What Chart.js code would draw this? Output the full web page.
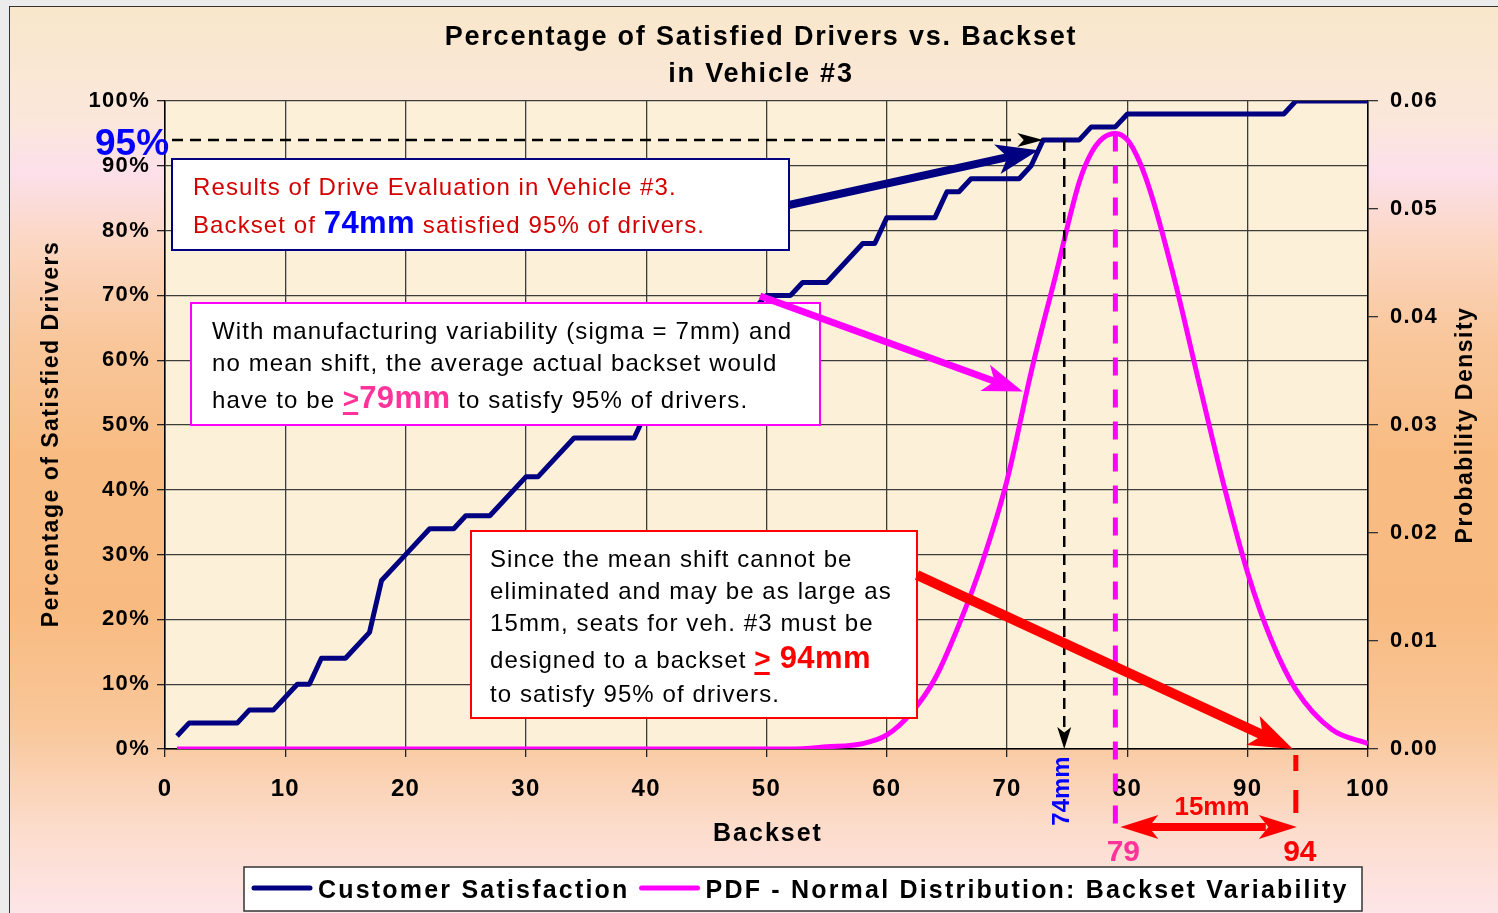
<!DOCTYPE html>
<html>
<head>
<meta charset="utf-8">
<script src="https://cdn.jsdelivr.net/npm/chart.js@4.4.1/dist/chart.umd.min.js"></script>
<style>
html, body { margin: 0; padding: 0; width: 1498px; height: 913px; overflow: hidden; background: #ececec; }
#frame {
    position: absolute; left: 9px; top: 6px; width: 1489px; height: 907px;
    border-left: 1px solid #333; border-top: 1px solid #333;
    background: linear-gradient(to bottom, #f9e7cb 0px, #fbe7da 110px, #fce0ea 165px, #fbd6c0 240px,
        #f9c79c 330px, #f8bc82 450px, #f8ba80 600px, #f9c79a 720px, #fcdccb 820px, #fde5e8 907px);
}
canvas { position: absolute; left: 0; top: 0; }
</style>
</head>
<body>
<div id="frame"></div>
<canvas id="canvas" width="1498" height="913"></canvas>
<script>
// values
const satBackset = [1, 2, 6, 7, 9, 11, 12, 13, 15, 17, 18, 20, 22, 24, 25, 27, 30, 31, 32, 34, 39, 40, 41, 42, 44, 45, 46, 47, 48, 49, 50, 52, 53, 55, 58, 59, 60, 64, 65, 66, 67, 71, 72, 73, 76, 77, 79, 80, 93, 94, 100];
const satPercent = [2, 4, 4, 6, 6, 10, 10, 14, 14, 18, 26, 30, 34, 34, 36, 36, 42, 42, 44, 48, 48, 52, 54, 56, 58, 60, 62, 64, 66, 68, 70, 70, 72, 72, 78, 78, 82, 82, 86, 86, 88, 88, 90, 94, 94, 96, 96, 98, 98, 100, 100];

const pdfBackset = [1, 52, 55, 58, 60, 62, 64, 66, 68, 70, 72, 74, 76, 77, 78, 79, 80, 81, 82, 84, 86, 88, 90, 92, 94, 97, 100];
const pdfDensity = [0, 0, 0.0002, 0.0005, 0.0013, 0.0033, 0.0065, 0.0115, 0.0175, 0.0249, 0.0349, 0.0437, 0.0525, 0.0552, 0.0566, 0.0570, 0.0564, 0.0544, 0.0513, 0.0431, 0.0337, 0.0245, 0.0163, 0.0100, 0.0055, 0.0018, 0.0005];

const seriesNames = ['Customer Satisfaction', 'PDF - Normal Distribution: Backset Variability'];
const xTickLabels = ['0', '10', '20', '30', '40', '50', '60', '70', '80', '90', '100'];
const yTickLabels = ['0%', '10%', '20%', '30%', '40%', '50%', '60%', '70%', '80%', '90%', '100%'];
const y2TickLabels = ['0.00', '0.01', '0.02', '0.03', '0.04', '0.05', '0.06'];

// annotation anchors (data units)
const satLevel = 94;
const satAt = 74.75;
const meanBackset = 79;
const designBackset = 94;

const FONT = '"Liberation Sans", Arial, Helvetica, sans-serif';
const NAVY = '#000080';
const MAGENTA = '#ff00ff';
const PINK = '#ff3399';
const RED = '#ff0000';

function text(ctx, s, x, y, font, color, align, ls, rot) {
    ctx.save();
    ctx.font = font;
    ctx.fillStyle = color;
    ctx.textAlign = align || 'left';
    ctx.textBaseline = rot ? 'middle' : 'alphabetic';
    ctx.letterSpacing = ls || '0px';
    if (rot) {
        ctx.translate(x, y);
        ctx.rotate(rot);
        ctx.fillText(s, 0, 0);
    } else {
        ctx.fillText(s, x, y);
    }
    ctx.restore();
}

function runs(ctx, x, y, parts) {
    for (const p of parts) {
        ctx.save();
        ctx.font = p.font;
        ctx.fillStyle = p.color;
        ctx.letterSpacing = p.ls || '0px';
        ctx.textAlign = 'left';
        ctx.textBaseline = 'alphabetic';
        ctx.fillText(p.t, x, y);
        const w = ctx.measureText(p.t).width;
        if (p.under) ctx.fillRect(x, y + 4, w - 1, 3);
        ctx.restore();
        x += w;
    }
}

function head(ctx, x2, y2, a, hl, hw) {
    const bx = x2 - hl * Math.cos(a), by = y2 - hl * Math.sin(a);
    const nx = x2 - hl * 0.75 * Math.cos(a), ny = y2 - hl * 0.75 * Math.sin(a);
    ctx.beginPath();
    ctx.moveTo(x2, y2);
    ctx.lineTo(bx + hw * Math.sin(a), by - hw * Math.cos(a));
    ctx.lineTo(nx, ny);
    ctx.lineTo(bx - hw * Math.sin(a), by + hw * Math.cos(a));
    ctx.closePath();
    ctx.fill();
}

function arrow(ctx, x1, y1, x2, y2, w, hl, hw, color) {
    const a = Math.atan2(y2 - y1, x2 - x1);
    ctx.save();
    ctx.strokeStyle = color;
    ctx.fillStyle = color;
    ctx.lineWidth = w;
    ctx.beginPath();
    ctx.moveTo(x1, y1);
    ctx.lineTo(x2 - hl * 0.7 * Math.cos(a), y2 - hl * 0.7 * Math.sin(a));
    ctx.stroke();
    head(ctx, x2, y2, a, hl, hw);
    ctx.restore();
}

function dashed(ctx, x1, y1, x2, y2, w, dash, color) {
    ctx.save();
    ctx.strokeStyle = color;
    ctx.lineWidth = w;
    ctx.setLineDash(dash);
    ctx.beginPath();
    ctx.moveTo(x1, y1);
    ctx.lineTo(x2, y2);
    ctx.stroke();
    ctx.restore();
}

function box(ctx, x, y, w, h, border) {
    ctx.save();
    ctx.fillStyle = '#ffffff';
    ctx.fillRect(x, y, w, h);
    ctx.strokeStyle = border;
    ctx.lineWidth = 2;
    ctx.strokeRect(x, y, w, h);
    ctx.restore();
}

const decor = {
    id: 'decor',
    beforeDraw(chart) {
        const { ctx, chartArea: a } = chart;
        ctx.save();
        ctx.fillStyle = '#fcf1d8';
        ctx.fillRect(a.left, a.top, a.right - a.left, a.bottom - a.top);
        ctx.restore();
        ctx.letterSpacing = '1.3px';
    },
    afterDatasetsDraw(chart) {
        const ctx = chart.ctx;
        const x = chart.scales.x, y = chart.scales.y, y2 = chart.scales.y2;
        ctx.letterSpacing = '0px';

        // 95% reference lines
        const yl = y.getPixelForValue(satLevel);
        const xs = x.getPixelForValue(satAt);
        dashed(ctx, chart.chartArea.left + 7, yl, xs - 47, yl, 2.5, [11, 7], '#000');
        arrow(ctx, xs - 47, yl, xs - 21, yl, 0.1, 26, 7, '#000');
        dashed(ctx, xs, yl, xs, y.getPixelForValue(0) - 22, 2.5, [11, 7], '#000');
        arrow(ctx, xs, y.getPixelForValue(0) - 22, xs, y.getPixelForValue(0), 0.1, 22, 7, '#000');

        // mean and design backset markers
        const xm = x.getPixelForValue(meanBackset);
        const xd = x.getPixelForValue(designBackset);
        dashed(ctx, xm, y2.getPixelForValue(0.0570), xm, 826, 5, [18, 14], MAGENTA);
        ctx.save();
        ctx.fillStyle = RED;
        ctx.fillRect(xd - 2.5, 755, 5, 16);
        ctx.fillRect(xd - 2.5, 790, 5, 23);
        ctx.restore();

        // text boxes
        box(ctx, 172, 159, 617, 91, NAVY);
        box(ctx, 191, 303, 629, 122, MAGENTA);
        box(ctx, 471, 531, 446, 187, RED);

        const reg = '24px ' + FONT;
        runs(ctx, 193, 195, [{ t: 'Results of Drive Evaluation in Vehicle #3.', font: reg, color: '#d40000', ls: '1.1px' }]);
        runs(ctx, 193, 233, [
            { t: 'Backset of ', font: reg, color: '#d40000', ls: '1.1px' },
            { t: '74mm', font: 'bold 31px ' + FONT, color: '#0000ff', ls: '0.4px' },
            { t: ' satisfied 95% of drivers.', font: reg, color: '#d40000', ls: '1.1px' }
        ]);

        runs(ctx, 212, 339, [{ t: 'With manufacturing variability (sigma = 7mm) and', font: reg, color: '#000', ls: '1.1px' }]);
        runs(ctx, 212, 371, [{ t: 'no mean shift, the average actual backset would', font: reg, color: '#000', ls: '1.1px' }]);
        runs(ctx, 212, 408, [
            { t: 'have to be ', font: reg, color: '#000', ls: '1.1px' },
            { t: '>', font: 'bold 28px ' + FONT, color: PINK, under: true },
            { t: '79mm', font: 'bold 31px ' + FONT, color: PINK, ls: '0.4px' },
            { t: ' to satisfy 95% of drivers.', font: reg, color: '#000', ls: '1.1px' }
        ]);

        runs(ctx, 490, 567, [{ t: 'Since the mean shift cannot be', font: reg, color: '#000', ls: '1.1px' }]);
        runs(ctx, 490, 599, [{ t: 'eliminated and may be as large as', font: reg, color: '#000', ls: '1.1px' }]);
        runs(ctx, 490, 631, [{ t: '15mm, seats for veh. #3 must be', font: reg, color: '#000', ls: '1.1px' }]);
        runs(ctx, 490, 668, [
            { t: 'designed to a backset ', font: reg, color: '#000', ls: '1.1px' },
            { t: '>', font: 'bold 28px ' + FONT, color: RED, under: true },
            { t: ' 94mm', font: 'bold 31px ' + FONT, color: RED, ls: '0.4px' }
        ]);
        runs(ctx, 490, 702, [{ t: 'to satisfy 95% of drivers.', font: reg, color: '#000', ls: '1.1px' }]);

        // arrows from the boxes
        arrow(ctx, 789, 205, x.getPixelForValue(72.6), y.getPixelForValue(92.4), 8, 42, 15, NAVY);
        arrow(ctx, 760, 296, x.getPixelForValue(71.3), y2.getPixelForValue(0.0331), 7, 40, 14, MAGENTA);
        arrow(ctx, 917, 575, xd - 3, y.getPixelForValue(0), 10, 44, 16, RED);

        // 15mm span
        ctx.save();
        ctx.fillStyle = RED;
        ctx.strokeStyle = RED;
        ctx.lineWidth = 8;
        ctx.beginPath();
        ctx.moveTo(xm + 30, 827);
        ctx.lineTo(xd - 30, 827);
        ctx.stroke();
        head(ctx, xm + 5, 827, Math.PI, 38, 12);
        head(ctx, xd + 1, 827, 0, 38, 12);
        ctx.restore();
    },
    afterDraw(chart) {
        const ctx = chart.ctx;
        const x = chart.scales.x;
        ctx.letterSpacing = '0px';
        const b = 'bold ';

        text(ctx, 'Percentage of Satisfied Drivers vs. Backset', 761, 45, b + '27px ' + FONT, '#000', 'center', '1.8px');
        text(ctx, 'in Vehicle #3', 761, 82, b + '27px ' + FONT, '#000', 'center', '1.8px');
        text(ctx, 'Percentage of Satisfied Drivers', 52, 434, b + '23px ' + FONT, '#000', 'center', '1.5px', -Math.PI / 2);
        text(ctx, 'Probability Density', 1466, 425, b + '23px ' + FONT, '#000', 'center', '1.5px', -Math.PI / 2);
        text(ctx, 'Backset', 768, 841, b + '25px ' + FONT, '#000', 'center', '2px');

        text(ctx, '95%', 95, 155, b + '37px ' + FONT, '#0000ff', 'left');
        text(ctx, '74mm', x.getPixelForValue(satAt) - 2, 791, b + '24px ' + FONT, '#0000ff', 'center', '0px', -Math.PI / 2);
        text(ctx, '79', x.getPixelForValue(meanBackset) + 8, 861, b + '30px ' + FONT, PINK, 'center');
        text(ctx, '94', x.getPixelForValue(designBackset) + 4, 861, b + '30px ' + FONT, RED, 'center');
        text(ctx, '15mm', 1212, 815, b + '26px ' + FONT, RED, 'center');

        // legend
        ctx.save();
        ctx.fillStyle = '#ffffff';
        ctx.fillRect(244, 867, 1118, 44);
        ctx.strokeStyle = '#333';
        ctx.lineWidth = 1.5;
        ctx.strokeRect(244, 867, 1118, 44);
        let lx = 252;
        chart.data.datasets.forEach(function (ds) {
            ctx.strokeStyle = ds.borderColor;
            ctx.lineWidth = 5;
            ctx.lineCap = 'round';
            ctx.beginPath();
            ctx.moveTo(lx + 2, 888);
            ctx.lineTo(lx + 58, 888);
            ctx.stroke();
            ctx.font = b + '25px ' + FONT;
            ctx.letterSpacing = '2.2px';
            ctx.fillStyle = '#000';
            ctx.textAlign = 'left';
            ctx.textBaseline = 'alphabetic';
            ctx.fillText(ds.label, lx + 66, 898);
            lx += 66 + ctx.measureText(ds.label).width + 10;
        });
        ctx.restore();
    }
};

const tickFont = { family: FONT, size: 22, weight: 'bold' };
const gridStyle = { color: '#3c3c3c', lineWidth: 1.3, tickLength: 8, tickColor: '#222' };

const ctx = document.getElementById('canvas').getContext('2d');
const myChart = new Chart(ctx, {
    type: 'line',
    data: {
        datasets: [{
            label: seriesNames[0],
            data: satBackset.map(function (v, i) { return { x: v, y: satPercent[i] }; }),
            yAxisID: 'y',
            borderColor: NAVY,
            borderWidth: 5,
            tension: 0,
            pointRadius: 0,
            borderJoinStyle: 'round'
        }, {
            label: seriesNames[1],
            data: pdfBackset.map(function (v, i) { return { x: v, y: pdfDensity[i] }; }),
            yAxisID: 'y2',
            borderColor: MAGENTA,
            borderWidth: 5,
            cubicInterpolationMode: 'monotone',
            pointRadius: 0,
            borderJoinStyle: 'round'
        }]
    },
    options: {
        responsive: false,
        animation: false,
        events: [],
        layout: { padding: { top: 101, left: 0, right: 0, bottom: 0 } },
        plugins: { legend: { display: false }, title: { display: false }, tooltip: { enabled: false } },
        scales: {
            x: {
                type: 'linear', position: 'bottom', min: 0, max: 100,
                ticks: {
                    stepSize: 10, autoSkip: false, maxRotation: 0, padding: 18, color: '#000',
                    font: { family: FONT, size: 24, weight: 'bold' },
                    callback: function (v) { return xTickLabels[Math.round(v / 10)]; }
                },
                grid: gridStyle,
                border: { color: '#000', width: 1.5 },
                afterFit: function (s) { s.height = 164; }
            },
            y: {
                position: 'left', min: 0, max: 100,
                ticks: {
                    stepSize: 10, padding: 7, color: '#000', font: tickFont,
                    callback: function (v) { return yTickLabels[Math.round(v / 10)]; }
                },
                grid: gridStyle,
                border: { color: '#000', width: 1.5 },
                afterFit: function (s) { s.width = 165; }
            },
            y2: {
                position: 'right', min: 0, max: 0.06,
                ticks: {
                    stepSize: 0.01, padding: 12, color: '#000', font: tickFont,
                    callback: function (v) { return y2TickLabels[Math.round(v / 0.01)]; }
                },
                grid: { drawOnChartArea: false, tickLength: 10, tickColor: '#333', lineWidth: 1.3 },
                border: { color: '#000', width: 1.5 },
                afterFit: function (s) { s.width = 130; }
            }
        }
    },
    plugins: [decor]
});
</script>
</body>
</html>
